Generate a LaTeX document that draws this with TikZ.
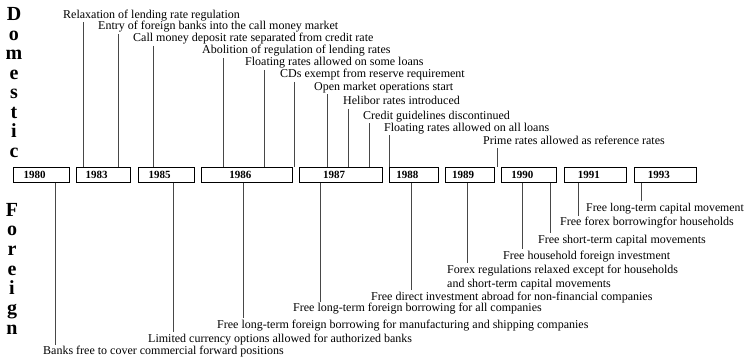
\documentclass[tikz,border=0pt]{standalone}
\usepackage{fontspec}
\setmainfont{Liberation Serif}
\begin{document}
\begin{tikzpicture}[x=1pt,y=-1pt,
  lbl/.style={font=\fontsize{12}{14}\selectfont, inner sep=1.5pt, text height=8.3pt, text depth=2.6pt},
  yearbox/.style={draw=black, line width=0.9pt, minimum height=15pt, inner sep=0pt, font=\fontsize{11}{13}\selectfont\bfseries},
  vlet/.style={font=\fontsize{20}{22}\selectfont\bfseries, inner sep=0pt, anchor=base},
  conn/.style={draw=black!72, line width=0.9pt}]
\useasboundingbox (0,0) rectangle (747,362);

% vertical words
\foreach \c [count=\i from 0] in {D,o,m,e,s,t,i,c}
  \node[vlet] (dom\i) at (14,20.5+19.57*\i) {\c};
\foreach \c [count=\i from 0] in {F,o,r,e,i,g,n}
  \node[vlet] (for\i) at (12,216+19.67*\i) {\c};

% year boxes
\node[yearbox, minimum width=55.7pt] (y1980) at (41.2,174.7) {1980\hspace*{13pt}};
\node[yearbox, minimum width=54pt]   (y1983) at (103,174.7) {1983\hspace*{13pt}};
\node[yearbox, minimum width=55.7pt] (y1985) at (166.2,174.7) {1985\hspace*{13pt}};
\node[yearbox, minimum width=91pt]   (y1986) at (246.8,174.7) {1986\hspace*{13pt}};
\node[yearbox, minimum width=83.3pt] (y1987) at (340.7,174.7) {1987\hspace*{13pt}};
\node[yearbox, minimum width=49pt]   (y1988) at (413.8,174.7) {1988\hspace*{13pt}};
\node[yearbox, minimum width=49.3pt] (y1989) at (469.6,174.7) {1989\hspace*{13pt}};
\node[yearbox, minimum width=55.7pt] (y1990) at (528.9,174.7) {1990\hspace*{13pt}};
\node[yearbox, minimum width=62.7pt] (y1991) at (595.4,174.7) {1991\hspace*{13pt}};
\node[yearbox, minimum width=62.7pt] (y1993) at (665.4,174.7) {1993\hspace*{13pt}};

% domestic labels
\node[lbl, anchor=base west] (d1) at (61.5,18) {Relaxation of lending rate regulation};
\node[lbl, anchor=base west] (d2) at (96.5,29.5) {Entry of foreign banks into the call money market};
\node[lbl, anchor=base west] (d3) at (131.5,41.5) {Call money deposit rate separated from credit rate};
\node[lbl, anchor=base west] (d4) at (200.5,53.5) {Abolition of regulation of lending rates};
\node[lbl, anchor=base west] (d5) at (243.5,65.5) {Floating rates allowed on some loans};
\node[lbl, anchor=base west] (d6) at (278.5,77.5) {CDs exempt from reserve requirement};
\node[lbl, anchor=base west] (d7) at (312.5,90) {Open market operations start};
\node[lbl, anchor=base west] (d8) at (341.5,104.5) {Helibor rates introduced};
\node[lbl, anchor=base west] (d9) at (361.5,119) {Credit guidelines discontinued};
\node[lbl, anchor=base west] (d10) at (382.5,131) {Floating rates allowed on all loans};
\node[lbl, anchor=base west] (d11) at (481.5,144) {Prime rates allowed as reference rates};

% foreign labels
\node[lbl, anchor=base west] (f1) at (41.5,354.5) {Banks free to cover commercial forward positions};
\node[lbl, anchor=base west] (f2) at (146.5,342) {Limited currency options allowed for authorized banks};
\node[lbl, anchor=base west] (f3) at (215.5,328) {Free long-term foreign borrowing for manufacturing and shipping companies};
\node[lbl, anchor=base west] (f4) at (291.5,311.5) {Free long-term foreign borrowing for all companies};
\node[lbl, anchor=base west] (f5) at (369.5,300) {Free direct investment abroad for non-financial companies};
\node[lbl, anchor=west, align=left, text height=, text depth=] (f6) at (445.5,277.2) {Forex regulations relaxed except for households\\and short-term capital movements};
\node[lbl, anchor=base west] (f7) at (501.5,259) {Free household foreign investment};
\node[lbl, anchor=base west] (f8) at (536.5,243) {Free short-term capital movements};
\node[lbl, anchor=base west] (f9) at (558.5,225.5) {Free forex borrowingfor households};
\node[lbl, anchor=base west, font=\fontsize{11.8}{14}\selectfont] (f10) at (584.5,211) {Free long-term capital movement};

% x positions of connectors
\coordinate (xd1) at (83,0);
\coordinate (xd2) at (118,0);
\coordinate (xd3) at (153,0);
\coordinate (xd4) at (223,0);
\coordinate (xd5) at (264,0);
\coordinate (xd6) at (294.5,0);
\coordinate (xd7) at (327,0);
\coordinate (xd8) at (348,0);
\coordinate (xd9) at (369,0);
\coordinate (xd10) at (389,0);
\coordinate (xd11) at (497.8,0);
\coordinate (xf1) at (55,0);
\coordinate (xf2) at (173,0);
\coordinate (xf3) at (243,0);
\coordinate (xf4) at (320,0);
\coordinate (xf5) at (411,0);
\coordinate (xf6) at (467,0);
\coordinate (xf7) at (522.5,0);
\coordinate (xf8) at (550,0);
\coordinate (xf9) at (578,0);
\coordinate (xf10) at (641,0);

% domestic connectors
\draw[conn] (xd1 |- d1.south) -- (xd1 |- y1983.north);
\draw[conn] (xd2 |- d2.south) -- (xd2 |- y1983.north);
\draw[conn] (xd3 |- d3.south) -- (xd3 |- y1985.north);
\draw[conn] (xd4 |- d4.south) -- (xd4 |- y1986.north);
\draw[conn] (xd5 |- d5.south) -- (xd5 |- y1986.north);
\draw[conn] (xd6 |- d6.south) -- (xd6 |- y1986.north);
\draw[conn] (xd7 |- d7.south) -- (xd7 |- y1987.north);
\draw[conn] (xd8 |- d8.south) -- (xd8 |- y1987.north);
\draw[conn] (xd9 |- d9.south) -- (xd9 |- y1987.north);
\draw[conn] (xd10 |- d10.south) -- (xd10 |- y1988.north);
\draw[conn] (xd11 |- d11.south) -- (xd11 |- y1989.north);

% foreign connectors
\draw[conn] (xf1 |- y1980.south) -- (xf1 |- f1.north);
\draw[conn] (xf2 |- y1985.south) -- (xf2 |- f2.north);
\draw[conn] (xf3 |- y1986.south) -- (xf3 |- f3.north);
\draw[conn] (xf4 |- y1987.south) -- (xf4 |- f4.north);
\draw[conn] (xf5 |- y1988.south) -- (xf5 |- f5.north);
\draw[conn] (xf6 |- y1989.south) -- (xf6 |- f6.north);
\draw[conn] (xf7 |- y1990.south) -- (xf7 |- f7.north);
\draw[conn] (xf8 |- y1990.south) -- (xf8 |- f8.north);
\draw[conn] (xf9 |- y1991.south) -- (xf9 |- f9.north);
\draw[conn] (xf10 |- y1993.south) -- (xf10 |- f10.north);
\end{tikzpicture}
\end{document}
